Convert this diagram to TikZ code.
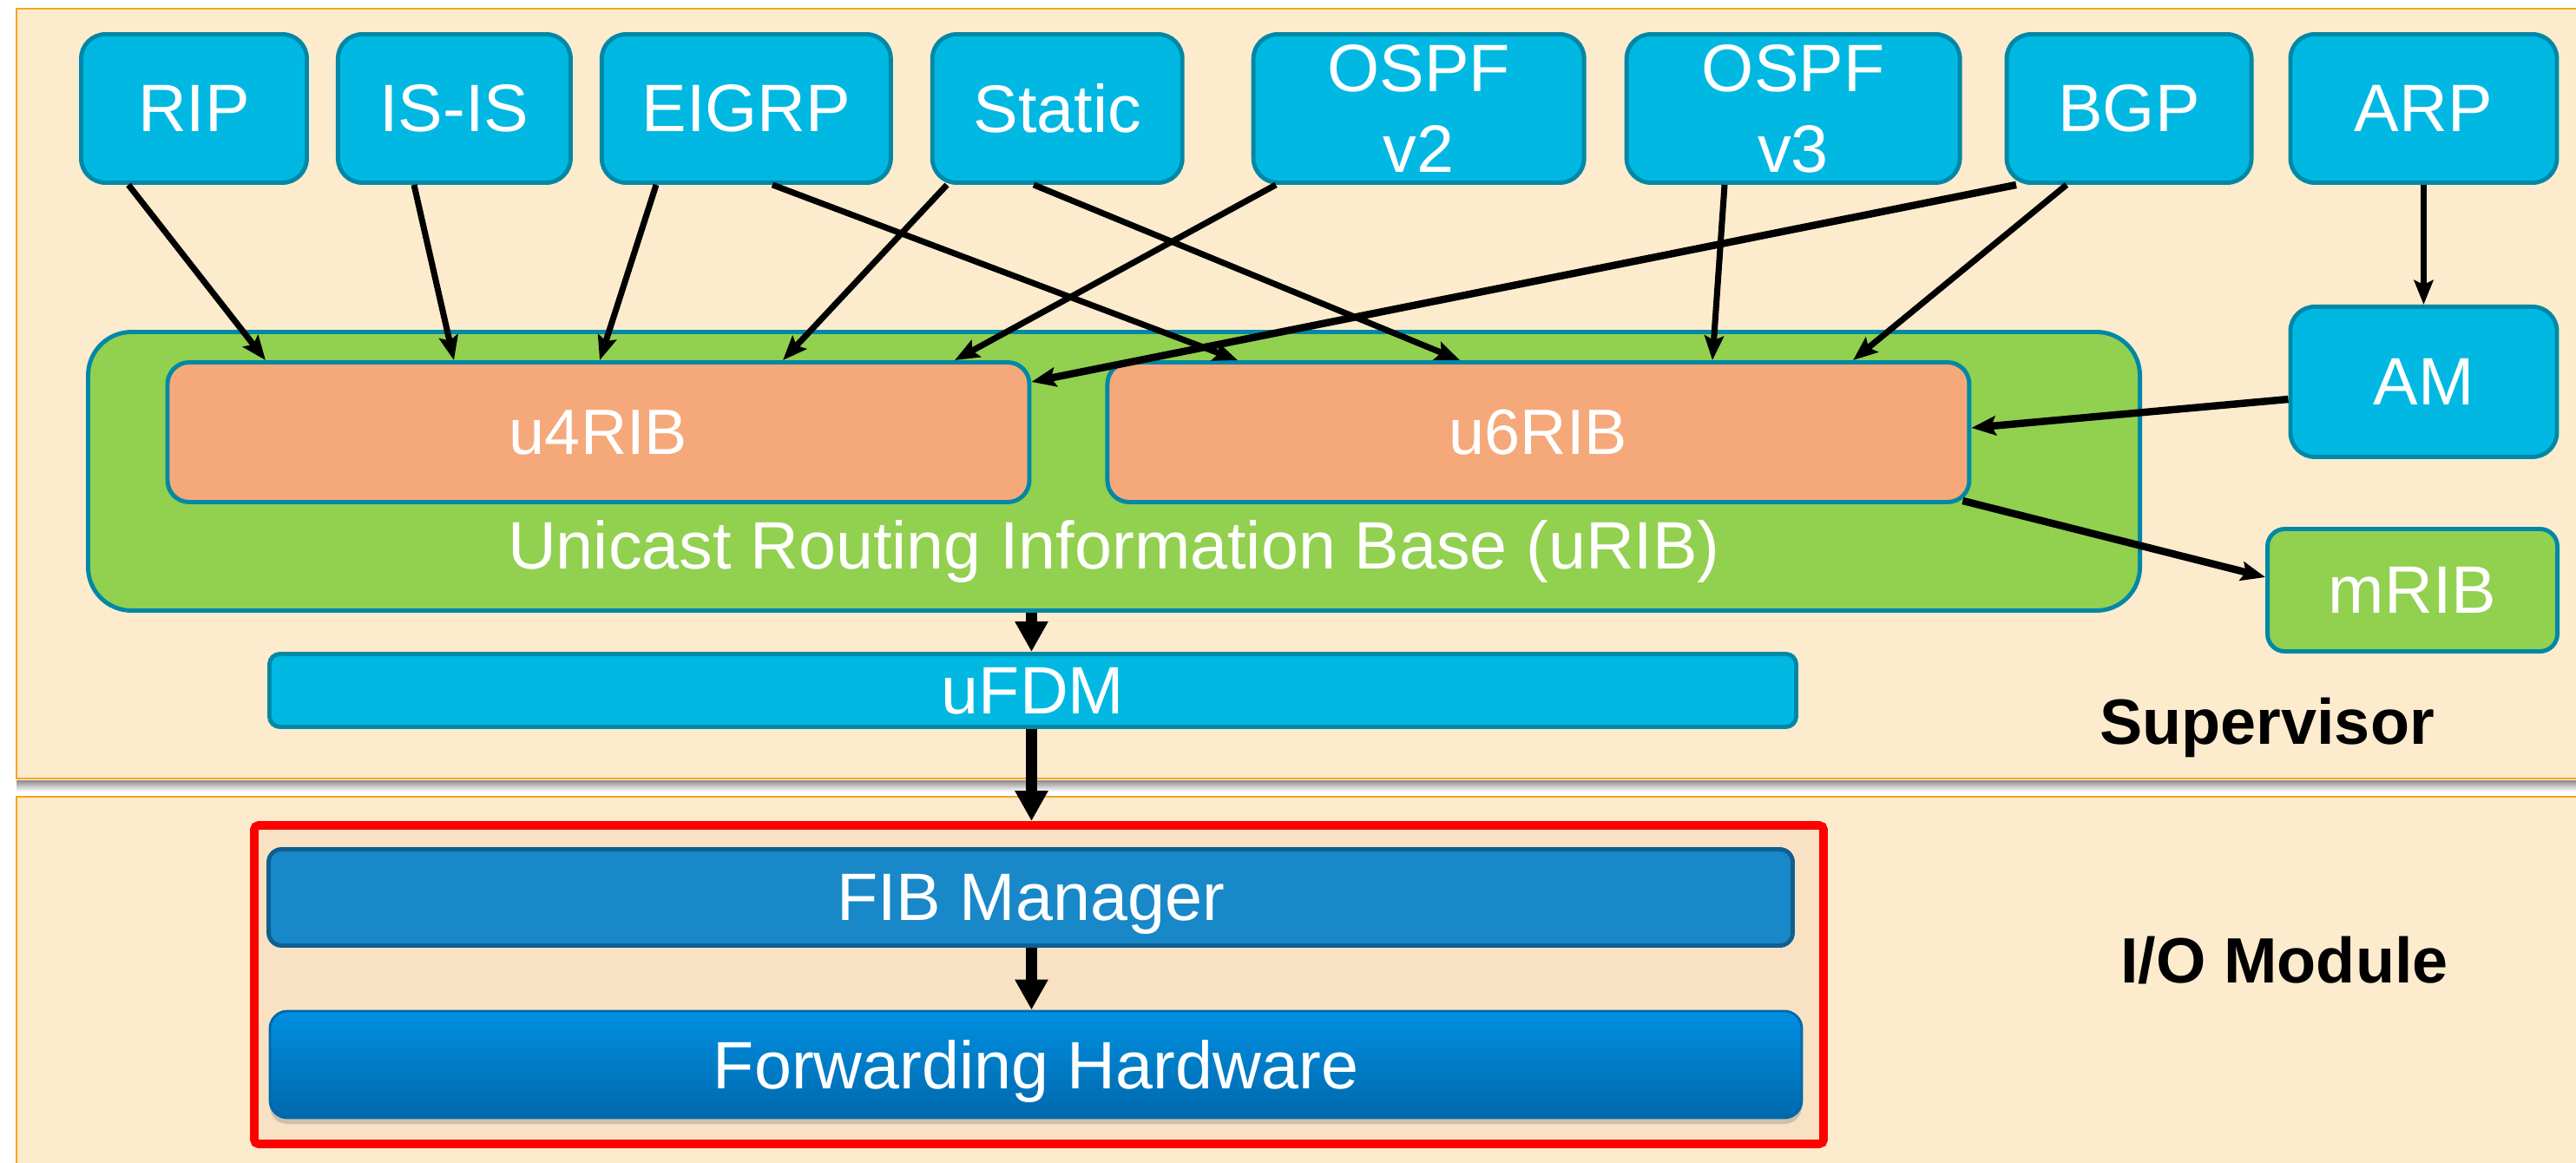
\documentclass[tikz,border=0pt]{standalone}
\usepackage{fontspec}
\setmainfont{Liberation Sans}
\usetikzlibrary{positioning, arrows.meta, shadows}

\definecolor{panelbg}{HTML}{FDEBCD}
\definecolor{paneledge}{HTML}{F7A41C}
\definecolor{boxblue}{HTML}{00B8E2}
\definecolor{boxedge}{HTML}{0088A6}
\definecolor{ribgreen}{HTML}{92D050}
\definecolor{ribsalmon}{HTML}{F5A97A}
\definecolor{fibblue}{HTML}{1888C8}
\definecolor{fibedge}{HTML}{0F5F90}
\definecolor{hwtop}{HTML}{0090E2}
\definecolor{hwbot}{HTML}{0068AC}
\definecolor{ioinner}{HTML}{F8E2C3}

\tikzset {
    >={Stealth[length=2.8mm, width=2.2mm, inset=0.5mm]},
    node distance=0.31cm,
    every node/.style={font=\fontsize{22}{26.5}\selectfont, text=white, inner sep=0pt},
    proto/.style={draw=boxedge, fill=boxblue, line width=1.4pt, rounded corners=0.28cm, minimum height=1.71cm, align=center},
    rib/.style={draw=boxedge, fill=ribsalmon, line width=1.4pt, rounded corners=0.25cm, minimum width=9.93cm, minimum height=1.61cm, font=\fontsize{21}{25}\selectfont},
    ribgroup/.style={draw=boxedge, fill=ribgreen, line width=1.4pt, rounded corners=0.5cm},
    bar/.style={draw=boxedge, fill=boxblue, line width=1.4pt, rounded corners=0.12cm, text depth=0pt},
    feed/.style={->, line width=2pt},
    feedthick/.style={->, line width=2.4pt},
    trunk/.style={-{Triangle[length=3.5mm, width=3.6mm]}, line width=3.5pt},
    side/.style={font=\fontsize{21}{25}\selectfont\bfseries, text=black}
}

\begin{document}
\begin{tikzpicture}
\useasboundingbox (0,0) rectangle (29.68,-13.40);
\fill[white] (0,0) rectangle (29.68,-13.40);

\draw[paneledge, fill=panelbg, line width=0.6pt] (0.19,-0.10) rectangle (30,-8.97);
\shade[top color=black!45, bottom color=white] (0.19,-8.99) rectangle (30,-9.12);
\draw[paneledge, fill=panelbg, line width=0.6pt] (0.19,-9.18) rectangle (30,-13.6);

\node[proto, minimum width=2.60cm] (RIP) at (2.235,-1.25) {RIP};
\node[proto, minimum width=2.68cm, right=of RIP] (ISIS) {IS-IS};
\node[proto, minimum width=3.33cm, right=of ISIS] (EIGRP) {EIGRP};
\node[proto, minimum width=2.88cm, right=0.43cm of EIGRP] (Static) {Static};
\node[proto, minimum width=3.81cm, right=0.77cm of Static] (OSPFv2) {OSPF\\v2};
\node[proto, minimum width=3.84cm, right=0.44cm of OSPFv2] (OSPFv3) {OSPF\\v3};
\node[proto, minimum width=2.82cm, right=0.49cm of OSPFv3] (BGP) {BGP};
\node[proto, minimum width=3.07cm, right=0.40cm of BGP] (ARP) {ARP};
\node[proto, minimum width=3.07cm, minimum height=1.73cm, below=1.38cm of ARP] (AM) {AM};

\node[ribgroup, minimum width=23.64cm, minimum height=3.21cm] (uRIB) at (12.835,-5.43) {};
\node[rib] (u4RIB) at (6.895,-4.98) {u4RIB};
\node[rib, right=0.85cm of u4RIB] (u6RIB) {u6RIB};
\node[anchor=base] (uRIBlabel) at (12.835,-6.55) {Unicast Routing Information Base (uRIB)};
\node[ribgroup, rounded corners=0.2cm, minimum width=3.34cm, minimum height=1.41cm] (mRIB) at (27.795,-6.80) {mRIB};
\node[bar, minimum width=17.59cm, minimum height=0.84cm] (uFDM) at (11.90,-7.955) {uFDM};
\node[side, anchor=base] (Sup) at (26.12,-8.57) {Supervisor};

\node[draw=red, fill=ioinner, line width=2.8pt, rounded corners=0.05cm, minimum width=18.08cm, minimum height=3.67cm] (IOgroup) at (11.97,-11.345) {};
\node[draw=fibedge, fill=fibblue, line width=1.4pt, rounded corners=0.15cm, minimum width=17.56cm, minimum height=1.11cm, text depth=0pt] (FIB) at (11.875,-10.34) {FIB Manager};
\node[draw=hwbot, top color=hwtop, bottom color=hwbot, line width=0.8pt, rounded corners=0.2cm, minimum width=17.65cm, minimum height=1.23cm, text depth=0pt, drop shadow={shadow xshift=0cm, shadow yshift=-0.07cm, opacity=0.35}] (FH) at (11.935,-12.265) {Forwarding Hardware};
\node[side, anchor=base] (IO) at (26.32,-11.32) {I/O Module};

\path[feed]
    (RIP.south -| 1.48,0) edge (u4RIB.north -| 3.06,0)
    (ISIS.south -| 4.77,0) edge (u4RIB.north -| 5.23,0)
    (EIGRP.south -| 7.56,0) edge (u4RIB.north -| 6.91,0)
    (EIGRP.south -| 8.90,0) edge (u6RIB.north -| 14.26,0)
    (Static.south -| 10.91,0) edge (u4RIB.north -| 9.02,0)
    (Static.south -| 11.91,0) edge (u6RIB.north -| 16.82,0)
    (OSPFv2.south -| 14.70,0) edge (u4RIB.north -| 11.00,0)
    (OSPFv3.south -| 19.87,0) edge (u6RIB.north -| 19.73,0)
    (BGP.south -| 23.81,0) edge (u6RIB.north -| 21.35,0)
    (ARP.south) edge (AM.north);
\path[feedthick]
    (BGP.south -| 23.23,0) edge (u4RIB.east |- 0,-4.40)
    (AM.west |- 0,-4.60) edge (u6RIB.east |- 0,-4.93)
    ([xshift=-0.1cm, yshift=0.04cm]u6RIB.south east) edge (mRIB.west |- 0,-6.65);
\path[trunk]
    (uRIB.south -| u4RIB.east) edge (uFDM.north -| u4RIB.east)
    (uFDM.south -| u4RIB.east) edge (IOgroup.north -| u4RIB.east)
    (FIB.south -| u4RIB.east) edge (FH.north -| u4RIB.east);
\end{tikzpicture}
\end{document}
